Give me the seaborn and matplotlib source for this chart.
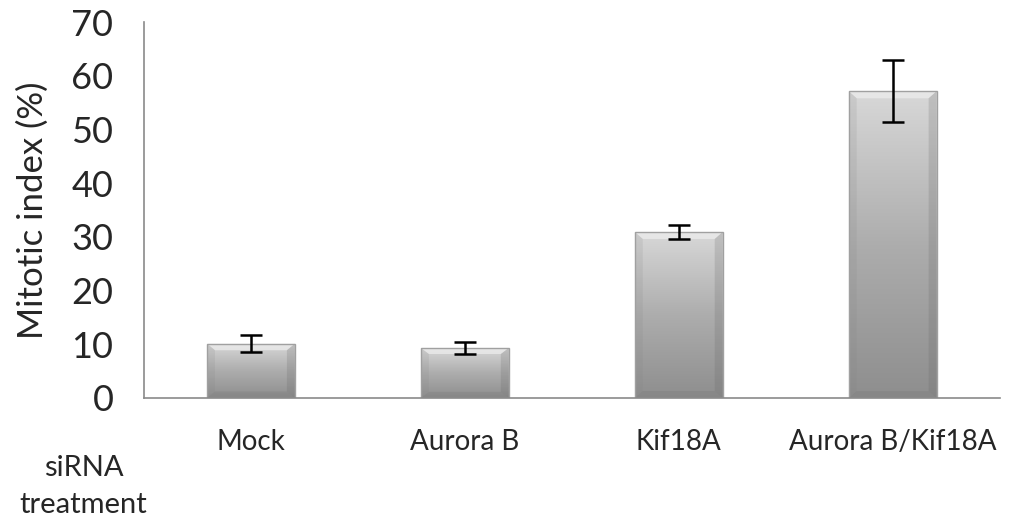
import numpy as np
import pandas as pd
import matplotlib
matplotlib.use("Agg")
import matplotlib.pyplot as plt
import seaborn as sns
from matplotlib.colors import LinearSegmentedColormap

categories = ["Mock", "Aurora B", "Kif18A", "Aurora B/Kif18A"]
mitotic_index = [10.1, 9.3, 30.9, 57.1]
errors = [1.6, 1.1, 1.3, 5.8]
y_ticks = [0, 10, 20, 30, 40, 50, 60, 70]

sns.set_theme(style="white")
plt.rcParams["font.family"] = ["Lato", "DejaVu Sans"]

df = pd.DataFrame({"treatment": categories, "value": mitotic_index})

fig = plt.figure(figsize=(10.09, 5.18), dpi=100)
ax = fig.add_axes([0.1427, 0.2317, 0.848, 0.7258])

sns.barplot(data=df, x="treatment", y="value", color="#aaaaaa", width=0.41,
            errorbar=None, ax=ax, zorder=2)

# vertical grey gradient with a bevelled look on each bar
cmap = LinearSegmentedColormap.from_list("bar", ["#8e8e8e", "#adadad", "#d8d8d8"])
grad = np.linspace(0, 1, 256).reshape(-1, 1)
for p in ax.patches:
    x0, y0 = p.get_x(), p.get_y()
    w, h = p.get_width(), p.get_height()
    p.set_facecolor("none")
    p.set_edgecolor("#a0a0a0")
    p.set_linewidth(1.0)
    im = ax.imshow(grad, extent=[x0, x0 + w, y0, y0 + h], origin="lower",
                   cmap=cmap, aspect="auto", zorder=1.5, interpolation="bicubic")
    im.set_clip_path(p)
    # bevel: light top band, slightly darker side and bottom bands
    bx = w * 0.09
    by = min(1.3, h * 0.12)
    ax.fill([x0, x0 + w, x0 + w - bx, x0 + bx], [y0 + h, y0 + h, y0 + h - by, y0 + h - by],
            color="#ececec", alpha=0.75, lw=0, zorder=1.7)
    ax.fill([x0, x0 + bx, x0 + bx, x0], [y0, y0 + by, y0 + h - by, y0 + h],
            color="#808080", alpha=0.15, lw=0, zorder=1.7)
    ax.fill([x0 + w, x0 + w - bx, x0 + w - bx, x0 + w], [y0, y0 + by, y0 + h - by, y0 + h],
            color="#606060", alpha=0.2, lw=0, zorder=1.7)
    ax.fill([x0, x0 + w, x0 + w - bx, x0 + bx], [y0, y0, y0 + by, y0 + by],
            color="#606060", alpha=0.15, lw=0, zorder=1.7)

ax.errorbar(np.arange(len(categories)), mitotic_index, yerr=errors, fmt="none",
            ecolor="black", elinewidth=1.8, capsize=8, capthick=1.8, zorder=3)

ax.set_xlim(-0.5, len(categories) - 0.5)
ax.set_ylim(0, 70)
ax.set_yticks(y_ticks)
ax.set_yticklabels([str(t) for t in y_ticks], fontsize=26)
ax.set_xticks(np.arange(len(categories)))
ax.set_xticklabels(categories, fontsize=20)
ax.tick_params(axis="x", length=0, pad=22)
ax.set_xticks(np.arange(-0.5, len(categories), 1.0), minor=True)
ax.tick_params(axis="x", which="minor", length=9, width=1.2, color="#8a8a8a", direction="out")
ax.tick_params(axis="y", length=9, width=1.2, color="#8a8a8a", direction="out", pad=13)
ax.set_xlabel("")
ax.set_ylabel("Mitotic index (%)", fontsize=25, labelpad=16)

for s in ["top", "right"]:
    ax.spines[s].set_visible(False)
for s in ["left", "bottom"]:
    ax.spines[s].set_color("#8a8a8a")
    ax.spines[s].set_linewidth(1.2)

fig.text(0.083, 0.061, "siRNA\ntreatment", ha="center", va="center",
         fontsize=21, linespacing=1.5)

fig.savefig("out.png", dpi=100)
